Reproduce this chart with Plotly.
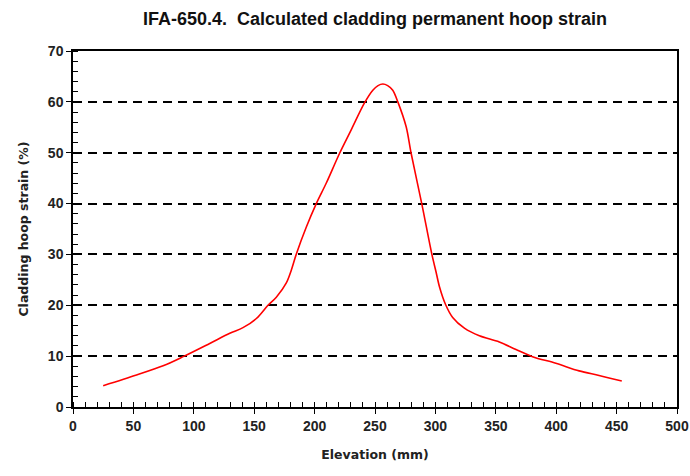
import plotly.graph_objects as go

elevation_mm = [25, 52.6, 74.6, 91.2, 113.2, 129.8, 140.7, 151.8, 161.4, 168.3, 176.6,
                180.7, 184.9, 193, 201.4, 209.6, 220.7, 230.3, 241.3, 248.2, 252.5,
                256.5, 260.5, 264.7, 268.9, 275.8, 279.9, 288.7, 297, 300.5, 303.3,
                308.5, 314.3, 324, 336.4, 352.9, 366.7, 380.4, 399.7, 419, 435.5, 454.3]
hoop_strain_pct = [4.2, 6.3, 8.1, 9.9, 12.5, 14.5, 15.6, 17.4, 20.0, 21.6, 24.4,
                   26.9, 30.1, 35.3, 40.0, 44.0, 49.9, 54.5, 59.8, 62.3, 63.2,
                   63.5, 63.2, 62.3, 60.0, 55.1, 49.9, 40.0, 30.1, 26.6, 23.7,
                   20.1, 17.6, 15.5, 14.0, 12.8, 11.3, 9.9, 8.6, 7.1, 6.2, 5.1]

FONT = "Liberation Sans, Arial, sans-serif"
TFONT = "DejaVu Sans, Verdana, sans-serif"

fig = go.Figure()
fig.add_trace(go.Scatter(x=elevation_mm, y=hoop_strain_pct, mode="lines",
                         line=dict(color="#ff0000", width=1.6, shape="spline", smoothing=0.9),
                         showlegend=False, hoverinfo="skip"))

axis_common = dict(showline=True, linecolor="black", linewidth=1.5, mirror=True,
                   ticks="outside", ticklen=5, tickwidth=1.3, tickcolor="black",
                   tickfont=dict(family=FONT, size=14, color="#222", weight="bold"),
                   zeroline=False, tick0=0, automargin=False)

fig.update_layout(
    width=690, height=476,
    margin=dict(l=73, r=13, t=51, b=69),
    paper_bgcolor="white", plot_bgcolor="white",
    title=dict(text="<b>IFA-650.4.  Calculated cladding permanent hoop strain</b>",
               x=0.5, xref="paper", xanchor="center", y=1 - 19 / 476, yanchor="middle",
               font=dict(family=FONT, size=18, color="#111")),
    xaxis=dict(range=[0, 500], dtick=50, showgrid=False,
               title=dict(text="<b>Elevation (mm)</b>", font=dict(family=TFONT, size=12.5, color="#222"), standoff=18),
               minor=dict(dtick=10, ticks="inside", ticklen=5, tickwidth=1.2, tickcolor="black", showgrid=False),
               **axis_common),
    yaxis=dict(range=[0, 70], dtick=10, showgrid=True, gridcolor="black", gridwidth=1.6,
               griddash="9px,6px",
               title=dict(text="<b>Cladding hoop strain (%)</b>", font=dict(family=TFONT, size=12.5, color="#222"), standoff=16),
               minor=dict(dtick=2, ticks="inside", ticklen=5, tickwidth=1.2, tickcolor="black", showgrid=False),
               **axis_common),
    xaxis2=dict(range=[0, 500], dtick=50, tick0=0, overlaying="x", anchor="y", side="bottom",
                ticks="inside", ticklen=5, tickwidth=1.3, tickcolor="black", automargin=False,
                showticklabels=False, showgrid=False, zeroline=False, showline=False),
    yaxis2=dict(range=[0, 70], dtick=10, tick0=0, overlaying="y", anchor="x", side="left",
                ticks="inside", ticklen=5, tickwidth=1.3, tickcolor="black", automargin=False,
                showticklabels=False, showgrid=False, zeroline=False, showline=False),
)
fig.add_trace(go.Scatter(x=[250], y=[30], xaxis="x2", yaxis="y2", mode="markers",
                         marker=dict(opacity=0), showlegend=False, hoverinfo="skip"))

fig.write_html("out.html")
